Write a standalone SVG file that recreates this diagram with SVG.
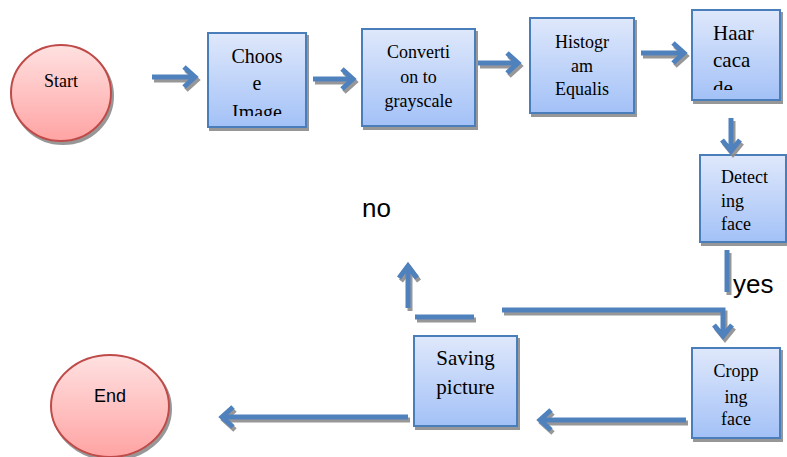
<svg xmlns="http://www.w3.org/2000/svg" width="787" height="457" viewBox="0 0 787 457">
<defs>
<linearGradient id="gBox" x1="0" y1="0" x2="0" y2="1">
<stop offset="0" stop-color="#dfe8fb"/>
<stop offset="1" stop-color="#a3c1f7"/>
</linearGradient>
<linearGradient id="gRed" x1="0" y1="0" x2="0" y2="1">
<stop offset="0" stop-color="#ffe1e1"/>
<stop offset="1" stop-color="#ffa3a3"/>
</linearGradient>
<filter id="sh" filterUnits="userSpaceOnUse" x="0" y="0" width="787" height="457">
<feDropShadow dx="2" dy="3" stdDeviation="0.6" flood-color="#8c8c8c" flood-opacity="0.9"/>
</filter>
<clipPath id="cChoose"><rect x="210" y="35" width="94" height="81"/></clipPath>
<clipPath id="cHaar"><rect x="694" y="12" width="84" height="78"/></clipPath>
</defs>
<style>
.box{fill:url(#gBox);stroke:#4a7ebb;stroke-width:2;filter:url(#sh)}
.term{fill:url(#gRed);stroke:#be4b48;stroke-width:2;filter:url(#sh)}
.ser{font-family:"Liberation Serif","Times New Roman",serif;fill:#000}
.san{font-family:"Liberation Sans",Arial,sans-serif;fill:#000}
.c{text-anchor:middle}
.ar{fill:none;stroke:#4f81bd;stroke-width:5;stroke-linejoin:miter;filter:url(#sh)}
</style>
<g id="start">
<ellipse class="term" cx="61" cy="93" rx="50" ry="48"/>
<text class="ser c" font-family="Liberation Serif, serif" x="61" y="87" font-size="18">Start</text>
</g>
<g id="choose">
<rect class="box" x="208" y="33" width="98" height="94"/>
<text class="ser c" font-family="Liberation Serif, serif" font-size="20" clip-path="url(#cChoose)"><tspan x="257" y="63">Choos</tspan><tspan x="257" y="90">e</tspan><tspan x="257" y="119">Image</tspan></text>
</g>
<g id="convert">
<rect class="box" x="362" y="29" width="113" height="97"/>
<text class="ser c" font-family="Liberation Serif, serif" font-size="18"><tspan x="418.5" y="58">Converti</tspan><tspan x="418.5" y="83">on to</tspan><tspan x="418.5" y="107">grayscale</tspan></text>
</g>
<g id="histogram">
<rect class="box" x="530" y="18" width="104" height="95"/>
<text class="ser c" font-family="Liberation Serif, serif" font-size="18"><tspan x="582" y="48">Histogr</tspan><tspan x="582" y="72">am</tspan><tspan x="582" y="95">Equalis</tspan></text>
</g>
<g id="haar">
<rect class="box" x="692" y="10" width="88" height="90"/>
<text class="ser" font-family="Liberation Serif, serif" font-size="21" clip-path="url(#cHaar)"><tspan x="713" y="40">Haar</tspan><tspan x="713" y="67">caca</tspan><tspan x="713" y="95">de</tspan></text>
</g>
<g id="detect">
<rect class="box" x="700" y="155" width="86" height="87"/>
<text class="ser" font-family="Liberation Serif, serif" font-size="18"><tspan x="721" y="183">Detect</tspan><tspan x="721" y="207">ing</tspan><tspan x="721" y="230">face</tspan></text>
</g>
<g id="crop">
<rect class="box" x="692" y="348" width="88" height="90"/>
<text class="ser c" font-family="Liberation Serif, serif" font-size="18"><tspan x="736" y="377">Cropp</tspan><tspan x="736" y="403">ing</tspan><tspan x="736" y="425">face</tspan></text>
</g>
<g id="save">
<rect class="box" x="414" y="336" width="103" height="90"/>
<text class="ser c" font-family="Liberation Serif, serif" font-size="21"><tspan x="465.5" y="365">Saving</tspan><tspan x="465.5" y="394">picture</tspan></text>
</g>
<g id="end">
<ellipse class="term" cx="110" cy="406" rx="59" ry="51"/>
<text class="san c" x="110" y="402" font-size="18">End</text>
</g>
<g id="connectors">
<path class="ar" d="M152 77 H194 M184 67 L195 77 L184 87"/>
<path class="ar" d="M313 79 H352 M342 69 L353 79 L342 89"/>
<path class="ar" d="M478 63 H517 M507 53 L518 63 L507 73"/>
<path class="ar" d="M641 53 H683 M673 43 L684 53 L673 63"/>
<path class="ar" d="M731 118 V150 M722 140 L731 151 L740 140"/>
<path class="ar" d="M727 250 V292"/>
<path class="ar" d="M502 310 H723 V335 M714 325 L723 336 L732 325"/>
<path class="ar" d="M415 317 H474"/>
<path class="ar" d="M408 308 V267 M399 278 L408 266 L417 278"/>
<path class="ar" d="M686 420 H541 M551 410 L540 420 L551 430"/>
<path class="ar" d="M408 417 H223 M233 407 L222 417 L233 427"/>
<text class="san" x="362" y="217" font-size="26">no</text>
<text class="san" x="733" y="293" font-size="26">yes</text>
</g>
</svg>
